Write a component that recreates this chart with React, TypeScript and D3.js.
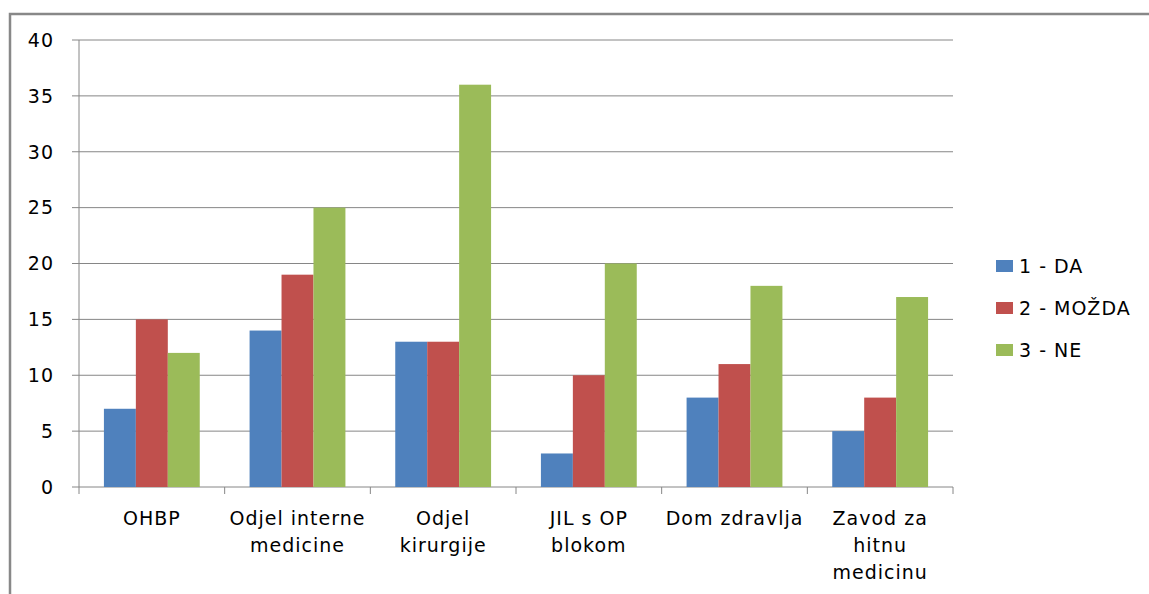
import React, { useEffect, useRef } from "react";
import * as d3 from "d3";

const categories = [
  ["OHBP"],
  ["Odjel interne", "medicine"],
  ["Odjel", "kirurgije"],
  ["JIL s OP", "blokom"],
  ["Dom zdravlja"],
  ["Zavod za", "hitnu", "medicinu"],
];
const seriesNames = ["1 - DA", "2 - MOŽDA", "3 - NE"];
const da = [7, 14, 13, 3, 8, 5];
const mozda = [15, 19, 13, 10, 11, 8];
const ne = [12, 25, 36, 20, 18, 17];
const yTicks = [0, 5, 10, 15, 20, 25, 30, 35, 40];
const colors = ["#4F81BD", "#C0504D", "#9BBB59"];

const App: React.FC = () => {
  const svgRef = useRef<SVGSVGElement>(null);
  const width = 1149;
  const height = 594;
  const margin = { top: 40, right: 196, bottom: 107, left: 79 };

  useEffect(() => {
    if (!svgRef.current) return;
    const svg = d3.select(svgRef.current);
    svg.selectAll("*").remove();

    const font = "DejaVu Sans, sans-serif";
    const series = [da, mozda, ne];
    const idx = categories.map((_, i) => i);

    // outer frame (left and top only)
    svg
      .append("path")
      .attr("d", `M10,${height} V14 H${width}`)
      .attr("fill", "none")
      .attr("stroke", "#888888")
      .attr("stroke-width", 2.5);

    const x0 = d3
      .scaleBand<number>()
      .domain(idx)
      .range([margin.left, width - margin.right]);

    const x1 = d3
      .scaleBand<number>()
      .domain([0, 1, 2])
      .range([0, x0.bandwidth()])
      .paddingInner(0)
      .paddingOuter(0.78);

    const y = d3
      .scaleLinear()
      .domain([0, 40])
      .range([height - margin.bottom, margin.top]);

    // gridlines + y labels
    const grid = svg.append("g");
    yTicks.forEach((t) => {
      grid
        .append("line")
        .attr("x1", margin.left - 7)
        .attr("x2", width - margin.right)
        .attr("y1", y(t))
        .attr("y2", y(t))
        .attr("stroke", "#868686")
        .attr("stroke-width", 1);
      grid
        .append("text")
        .attr("x", 54)
        .attr("y", y(t))
        .attr("dy", "0.36em")
        .attr("text-anchor", "end")
        .attr("font-family", font)
        .attr("font-size", 19)
        .attr("letter-spacing", 1)
        .attr("fill", "#000")
        .text(t);
    });

    // bars
    series.forEach((vals, s) => {
      svg
        .append("g")
        .selectAll("rect")
        .data(vals)
        .join("rect")
        .attr("x", (d, i) => (x0(i) ?? 0) + (x1(s) ?? 0))
        .attr("y", (d) => y(d))
        .attr("width", x1.bandwidth())
        .attr("height", (d) => y(0) - y(d))
        .attr("fill", colors[s]);
    });

    // axes
    svg
      .append("line")
      .attr("x1", margin.left)
      .attr("x2", margin.left)
      .attr("y1", margin.top)
      .attr("y2", y(0))
      .attr("stroke", "#868686");
    const bounds = idx.map((i) => x0(i) ?? 0).concat([width - margin.right]);
    bounds.forEach((bx) => {
      svg
        .append("line")
        .attr("x1", bx)
        .attr("x2", bx)
        .attr("y1", y(0))
        .attr("y2", y(0) + 7)
        .attr("stroke", "#868686");
    });

    // category labels
    categories.forEach((lines, i) => {
      const cx = (x0(i) ?? 0) + x0.bandwidth() / 2;
      const t = svg
        .append("text")
        .attr("text-anchor", "middle")
        .attr("font-family", font)
        .attr("font-size", 19)
        .attr("letter-spacing", 1)
        .attr("fill", "#000");
      lines.forEach((ln, k) => {
        t.append("tspan")
          .attr("x", cx)
          .attr("y", 525 + k * 27)
          .text(ln);
      });
    });

    // legend
    seriesNames.forEach((name, s) => {
      const cy = 266 + s * 42;
      svg
        .append("rect")
        .attr("x", 996)
        .attr("y", cy - 6)
        .attr("width", 17)
        .attr("height", 12)
        .attr("fill", colors[s]);
      svg
        .append("text")
        .attr("x", 1019)
        .attr("y", cy)
        .attr("dy", "0.36em")
        .attr("font-family", font)
        .attr("font-size", 19)
        .attr("letter-spacing", 1)
        .attr("fill", "#000")
        .text(name);
    });
  }, []);

  return (
    <svg
      ref={svgRef}
      width={width}
      height={height}
      style={{ position: "absolute", left: 0, top: 0, background: "#fff" }}
    ></svg>
  );
};

export default App;
